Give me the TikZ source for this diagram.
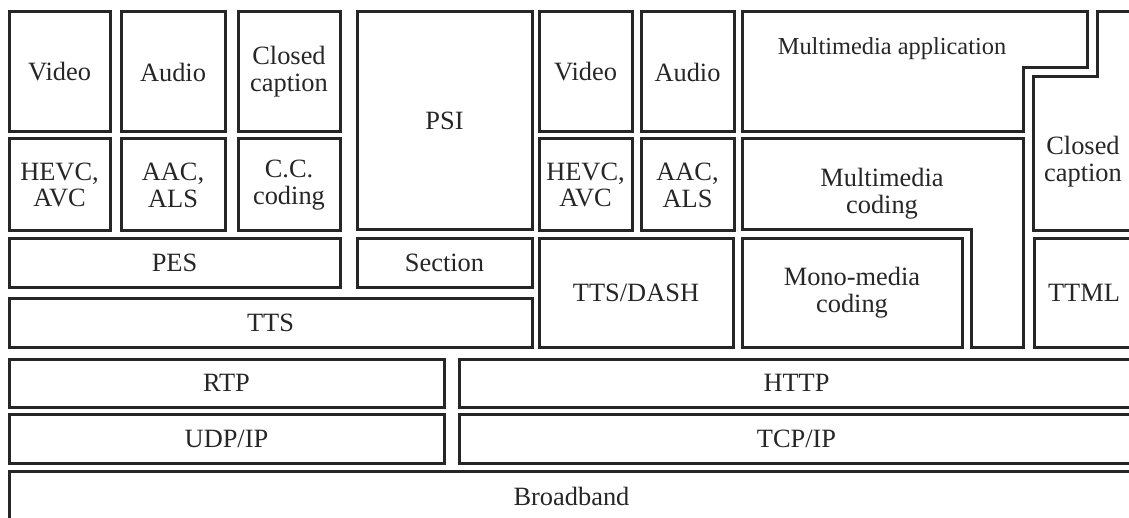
\documentclass[tikz,border=0pt]{standalone}
\usepackage{fontspec}
\setmainfont{Liberation Serif}
\usetikzlibrary{fit}

\tikzset{
  layer/.style={draw=black!85, line width=1.5pt, inner sep=0pt},
  edge/.style={draw=black!85, line width=1.5pt},
  lbl/.style={inner sep=0pt, align=center, text=black!85,
    font=\fontsize{13.2}{13.4}\selectfont}
}

\begin{document}
\begin{tikzpicture}[x=0.5pt,y=-0.5pt]
        % Canvas
        \useasboundingbox (0,0) rectangle (1129,518);
        \clip (0,0) rectangle (1129,518);

        % MPEG-2 TS stack
        \node[layer, fit={(9,12) (110,132)}, label={[lbl]center:Video}] (vid1) {};
        \node[layer, fit={(121,12) (225,132)}, label={[lbl]center:Audio}] (aud1) {};
        \node[layer, fit={(238,12) (340,132)}, label={[lbl]center:Closed\\caption}] (cc1) {};
        \node[layer, fit={(9,139) (110,231)}, label={[lbl]center:HEVC,\\AVC}] (hevc1) {};
        \node[layer, fit={(121,139) (225,231)}, label={[lbl]center:AAC,\\ALS}] (aac1) {};
        \node[layer, fit={(238,139) (340,231)}, label={[lbl]center:C.C.\\coding}] (ccc) {};
        \node[layer, fit={(9,239) (340,287)}, label={[lbl]center:PES}] (pes) {};
        \node[layer, fit={(357,12) (532,230)}, label={[lbl]center:PSI}] (psi) {};
        \node[layer, fit={(357,239) (532,287)}, label={[lbl]center:Section}] (sect) {};
        \node[layer, fit={(9,298) (532,347)}, label={[lbl]center:TTS}] (tts) {};

        % MMT / DASH stack
        \node[layer, fit={(539,12) (632,132)}, label={[lbl]center:Video}] (vid2) {};
        \node[layer, fit={(641,12) (734,132)}, label={[lbl]center:Audio}] (aud2) {};
        \node[layer, fit={(539,139) (632,231)}, label={[lbl]center:HEVC,\\AVC}] (hevc2) {};
        \node[layer, fit={(641,139) (734,231)}, label={[lbl]center:AAC,\\ALS}] (aac2) {};
        \node[layer, fit={(539,239) (733,347)}, label={[lbl]center:TTS/DASH}] (dash) {};

        % Multimedia application (stepped outline)
        \draw[edge] (742,12) -- (1087,12) -- (1087,68) -- (1023,68)
          -- (1023,132) -- (742,132) -- cycle;
        \node[lbl, font=\fontsize{12.2}{12.4}\selectfont] (mapp) at (892,49) {Multimedia application};

        % Closed caption, right side
        \draw[edge] (1134,12) -- (1097,12) -- (1097,77) -- (1033,77)
          -- (1033,231) -- (1134,231);
        \node[lbl] (cc2) at (1083,162) {Closed\\caption};

        % Multimedia coding (L-shape)
        \draw[edge] (742,139) -- (1023,139) -- (1023,347) -- (971,347)
          -- (971,230) -- (742,230) -- cycle;
        \node[lbl] (mcod) at (882,194) {Multimedia\\coding};

        \node[layer, fit={(742,239) (962,347)}, label={[lbl]center:Mono-media\\coding}] (mono) {};
        \node[layer, fit={(1034,239) (1134,347)}, label={[lbl]center:TTML}] (ttml) {};

        % Transport and network
        \node[layer, fit={(9,359) (444,407)}, label={[lbl]center:RTP}] (rtp) {};
        \node[layer, fit={(459,359) (1134,407)}, label={[lbl]center:HTTP}] (http) {};
        \node[layer, fit={(9,414) (444,463)}, label={[lbl]center:UDP/IP}] (udp) {};
        \node[layer, fit={(459,414) (1134,463)}, label={[lbl]center:TCP/IP}] (tcp) {};
        \node[layer, fit={(9,471) (1134,522)}, label={[lbl]center:Broadband}] (bb) {};
\end{tikzpicture}
\end{document}
